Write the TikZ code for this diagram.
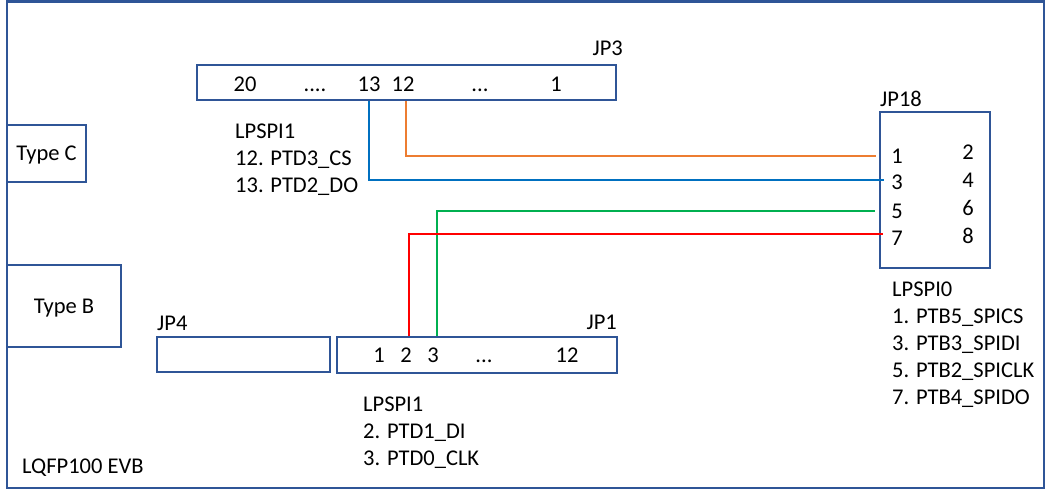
\documentclass[tikz,border=0pt]{standalone}
\usepackage{fontspec}
\setmainfont{Carlito}
\definecolor{boxblue}{HTML}{2F5597}
\definecolor{wireorange}{HTML}{ED7D31}
\definecolor{wireblue}{HTML}{0070C0}
\definecolor{wiregreen}{HTML}{00B050}
\tikzset{
  box/.style={draw=boxblue, line width=2.5pt, inner sep=0pt, text depth=0pt},
  lbl/.style={inner sep=0pt, anchor=base},
  blk/.style={inner sep=0pt, anchor=north west, align=left},
  wire/.style={line width=2pt},
}
\begin{document}
\begin{tikzpicture}[x=1pt, y=-1pt, font=\fontsize{22.5}{27}\selectfont]
  \useasboundingbox (0,0) rectangle (1047,490);
  \draw[boxblue, line width=2.5pt] (7,1.5) rectangle (1044,488);
  \node[box, minimum width=79pt, minimum height=57pt] (typec) at (46.5,153.5) {Type C};
  \node[box, minimum width=114pt, minimum height=82pt] (typeb) at (64,306) {Type B};
  \node[lbl, anchor=base west] (evb) at (22,473) {LQFP100 EVB};

  \node[box, minimum width=419pt, minimum height=35pt] (jp3) at (406.5,82.5) {};
  \node[lbl, anchor=base east] at (623,55) {JP3};
  \node[lbl] (p20) at (245,91) {20};
  \node[lbl] (p3dots) at (315,91) {....};
  \node[lbl] (p13) at (369,91) {13};
  \node[lbl] (p12) at (403,91) {12};
  \node[lbl] (p3more) at (480,91) {...};
  \node[lbl] (p1) at (556,91) {1};
  \node[blk] (jp3txt) at (235,124) {LPSPI1\\12. PTD3\_CS\\13. PTD2\_DO};

  \node[box, minimum width=173pt, minimum height=35pt] (jp4) at (243.5,354.5) {};
  \node[lbl, anchor=base west] at (157,330) {JP4};

  \node[box, minimum width=280pt, minimum height=36pt] (jp1) at (477,355) {};
  \node[lbl, anchor=base east] at (617,329) {JP1};
  \node[lbl] (r1) at (379,362) {1};
  \node[lbl] (r2) at (406,362) {2};
  \node[lbl] (r3) at (433,362) {3};
  \node[lbl] (r1dots) at (484,362) {...};
  \node[lbl] (r12) at (567,362) {12};
  \node[blk] (jp1txt) at (363,397) {LPSPI1\\2. PTD1\_DI\\3. PTD0\_CLK};

  \node[box, minimum width=110pt, minimum height=156pt] (jp18) at (935,190) {};
  \node[lbl, anchor=base west] at (880,106) {JP18};
  \foreach \n/\y in {1/163, 3/189, 5/218, 7/245}
    \node[lbl] (q\n) at (897,\y) {\n};
  \foreach \n/\y in {2/159, 4/187, 6/215, 8/243}
    \node[lbl] (q\n) at (968,\y) {\n};
  \node[blk] (jp18txt) at (892,282) {LPSPI0\\1. PTB5\_SPICS\\3. PTB3\_SPIDI\\5. PTB2\_SPICLK\\7. PTB4\_SPIDO};

  \draw[wire, wireorange] ([xshift=3pt]p12.south |- jp3.south) |- ([xshift=-3pt]jp18.west |- q1);
  \draw[wire, wireblue] (p13.south |- jp3.south) |- ([xshift=5pt, yshift=2pt]jp18.west |- q3);
  \draw[wire, wiregreen] ([xshift=4pt]r3.north |- jp1.north) |- ([xshift=-4pt]jp18.west |- q5);
  \draw[wire, red] ([xshift=3pt]r2.north |- jp1.north) |- ([xshift=4pt, yshift=4pt]jp18.west |- q7);
\end{tikzpicture}
\end{document}
